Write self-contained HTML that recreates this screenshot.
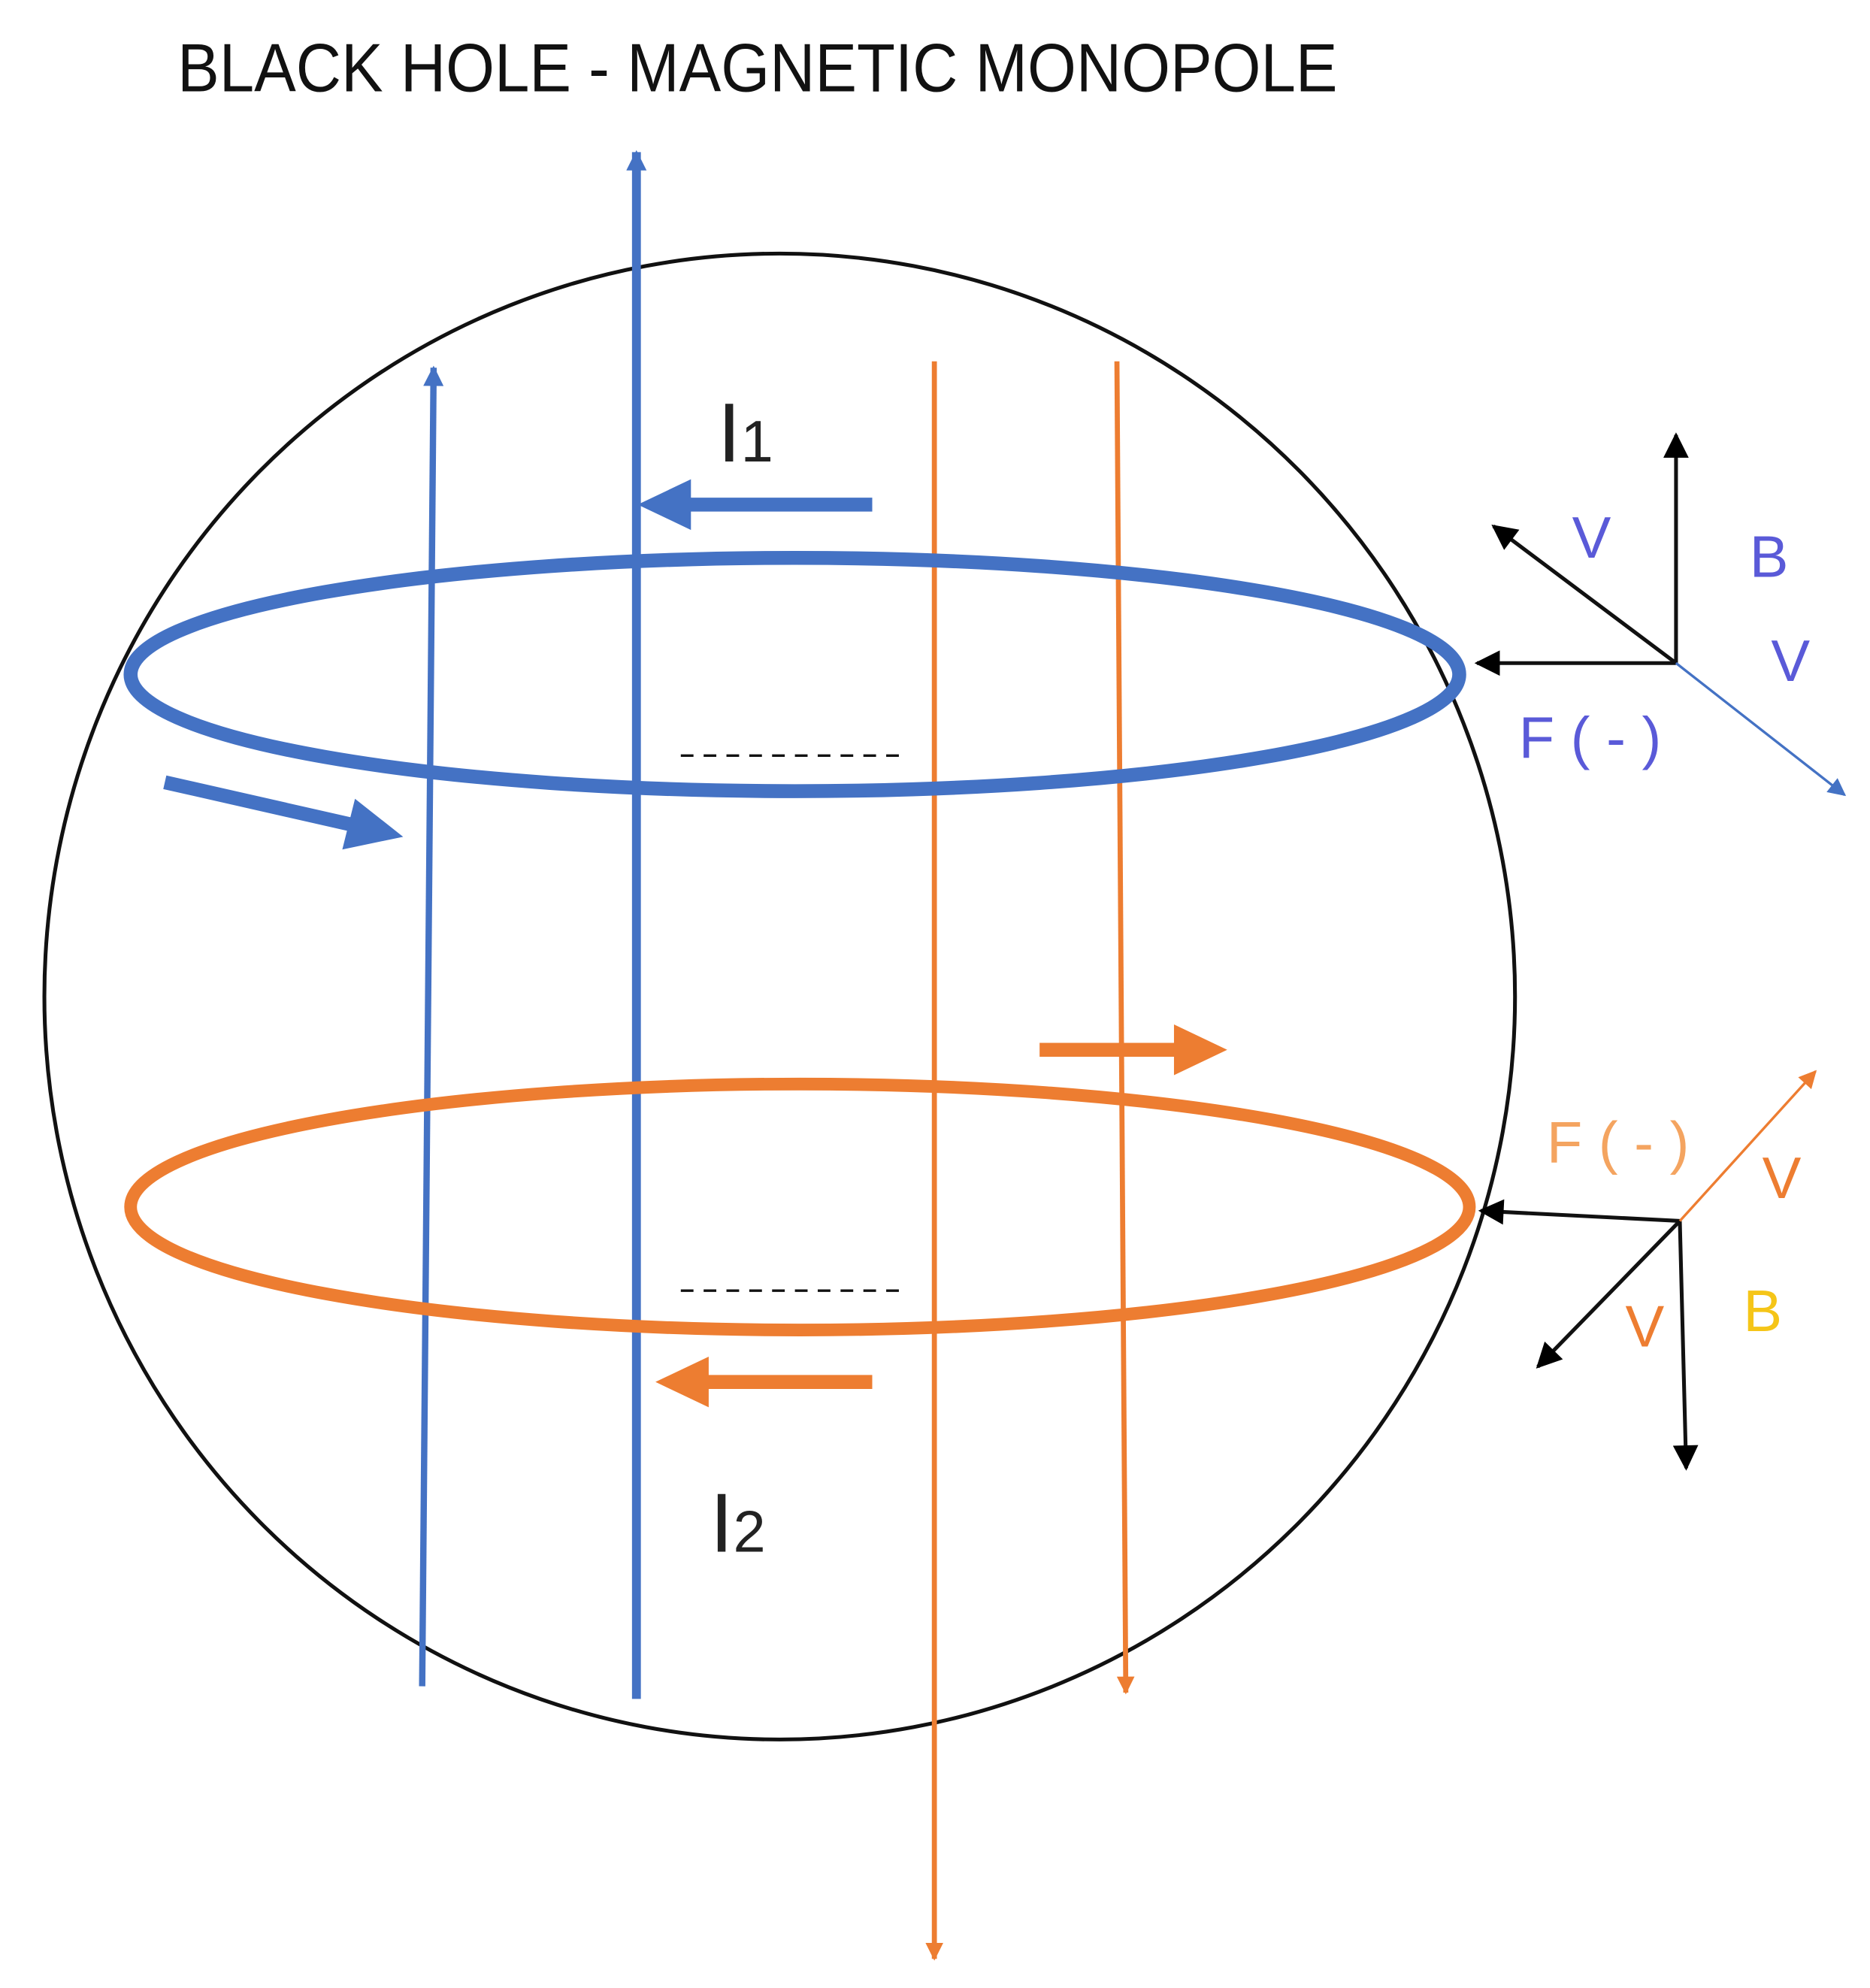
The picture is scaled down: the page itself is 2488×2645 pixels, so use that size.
<!DOCTYPE html>
<html><head><meta charset="utf-8"><style>html,body{margin:0;padding:0;background:#fff}svg{display:block}</style></head>
<body>
<svg width="2488" height="2645" viewBox="0 0 1475 1568" preserveAspectRatio="none" xmlns="http://www.w3.org/2000/svg" font-family="Liberation Sans, sans-serif">
<defs>
<marker id="bh" viewBox="0 0 10 10" refX="9" refY="5" markerWidth="20" markerHeight="16" orient="auto" markerUnits="userSpaceOnUse"><path d="M0,0 L10,5 L0,10 z" fill="#4472C4"/></marker>
<marker id="oh" viewBox="0 0 10 10" refX="9" refY="5" markerWidth="18" markerHeight="14" orient="auto" markerUnits="userSpaceOnUse"><path d="M0,0 L10,5 L0,10 z" fill="#ED7D31"/></marker>
<marker id="kh" viewBox="0 0 10 10" refX="9" refY="5" markerWidth="22" markerHeight="20" orient="auto" markerUnits="userSpaceOnUse"><path d="M0,0 L10,5 L0,10 z" fill="#000"/></marker>
<marker id="bh3" viewBox="0 0 10 10" refX="9" refY="5" markerWidth="22" markerHeight="14" orient="auto" markerUnits="userSpaceOnUse"><path d="M0,0 L10,5 L0,10 z" fill="#4472C4"/></marker>
<marker id="oh3" viewBox="0 0 10 10" refX="9" refY="5" markerWidth="22" markerHeight="14" orient="auto" markerUnits="userSpaceOnUse"><path d="M0,0 L10,5 L0,10 z" fill="#ED7D31"/></marker>
</defs>
<text x="140" y="72" font-size="54" fill="#111" textLength="915" lengthAdjust="spacingAndGlyphs">BLACK HOLE - MAGNETIC MONOPOLE</text>
<ellipse cx="615" cy="786" rx="580" ry="586" fill="none" stroke="#111" stroke-width="3"/>
<line x1="333" y1="1330" x2="342" y2="290" stroke="#4472C4" stroke-width="5" marker-end="url(#bh)"/>
<line x1="502" y1="1340" x2="502" y2="120" stroke="#4472C4" stroke-width="7" marker-end="url(#bh)"/>
<line x1="737" y1="285" x2="737" y2="1545" stroke="#ED7D31" stroke-width="4" marker-end="url(#oh)"/>
<line x1="881" y1="285" x2="888" y2="1335" stroke="#ED7D31" stroke-width="4" marker-end="url(#oh)"/>
<ellipse cx="627" cy="532" rx="524" ry="92" fill="none" stroke="#4472C4" stroke-width="11"/>
<ellipse cx="631" cy="952" rx="528" ry="97" fill="none" stroke="#ED7D31" stroke-width="10"/>
<line x1="537" y1="596" x2="715" y2="596" stroke="#111" stroke-width="2" stroke-dasharray="10,8"/>
<line x1="537" y1="1018" x2="715" y2="1018" stroke="#111" stroke-width="2" stroke-dasharray="10,8"/>
<!-- big arrows -->
<line x1="688" y1="398" x2="540" y2="398" stroke="#4472C4" stroke-width="11"/>
<polygon points="503,398 545,378 545,418" fill="#4472C4"/>
<line x1="130" y1="617" x2="280" y2="651" stroke="#4472C4" stroke-width="11"/>
<polygon points="318,660 280,630 270,670" fill="#4472C4"/>
<line x1="820" y1="828" x2="930" y2="828" stroke="#ED7D31" stroke-width="11"/>
<polygon points="968,828 926,808 926,848" fill="#ED7D31"/>
<line x1="688" y1="1090" x2="555" y2="1090" stroke="#ED7D31" stroke-width="11"/>
<polygon points="517,1090 559,1070 559,1110" fill="#ED7D31"/>
<text x="566" y="364" font-size="66" fill="#222">I<tspan font-size="46">1</tspan></text>
<text x="560" y="1224" font-size="66" fill="#222">I<tspan font-size="46">2</tspan></text>
<line x1="1322" y1="523" x2="1322" y2="343" stroke="#111" stroke-width="3" marker-end="url(#kh)"/>
<line x1="1322" y1="523" x2="1165" y2="523" stroke="#111" stroke-width="3" marker-end="url(#kh)"/>
<line x1="1322" y1="523" x2="1178" y2="415" stroke="#111" stroke-width="3" marker-end="url(#kh)"/>
<line x1="1322" y1="523" x2="1455" y2="627" stroke="#4472C4" stroke-width="2" marker-end="url(#bh3)"/>
<g fill="#5a5ad8" font-size="46">
<text x="1240" y="440">V</text>
<text x="1380" y="455">B</text>
<text x="1397" y="537">V</text>
<text x="1198" y="598">F ( - )</text>
</g>
<line x1="1325" y1="963" x2="1168" y2="955" stroke="#111" stroke-width="3" marker-end="url(#kh)"/>
<line x1="1325" y1="963" x2="1330" y2="1158" stroke="#111" stroke-width="3" marker-end="url(#kh)"/>
<line x1="1325" y1="963" x2="1213" y2="1078" stroke="#111" stroke-width="3" marker-end="url(#kh)"/>
<line x1="1325" y1="963" x2="1432" y2="845" stroke="#ED7D31" stroke-width="2" marker-end="url(#oh3)"/>
<g font-size="46">
<text x="1220" y="917" fill="#F4A460">F ( - )</text>
<text x="1390" y="945" fill="#ED7D31">V</text>
<text x="1282" y="1062" fill="#ED7D31">V</text>
<text x="1375" y="1050" fill="#F5C518">B</text>
</g>
</svg>
</body></html>
